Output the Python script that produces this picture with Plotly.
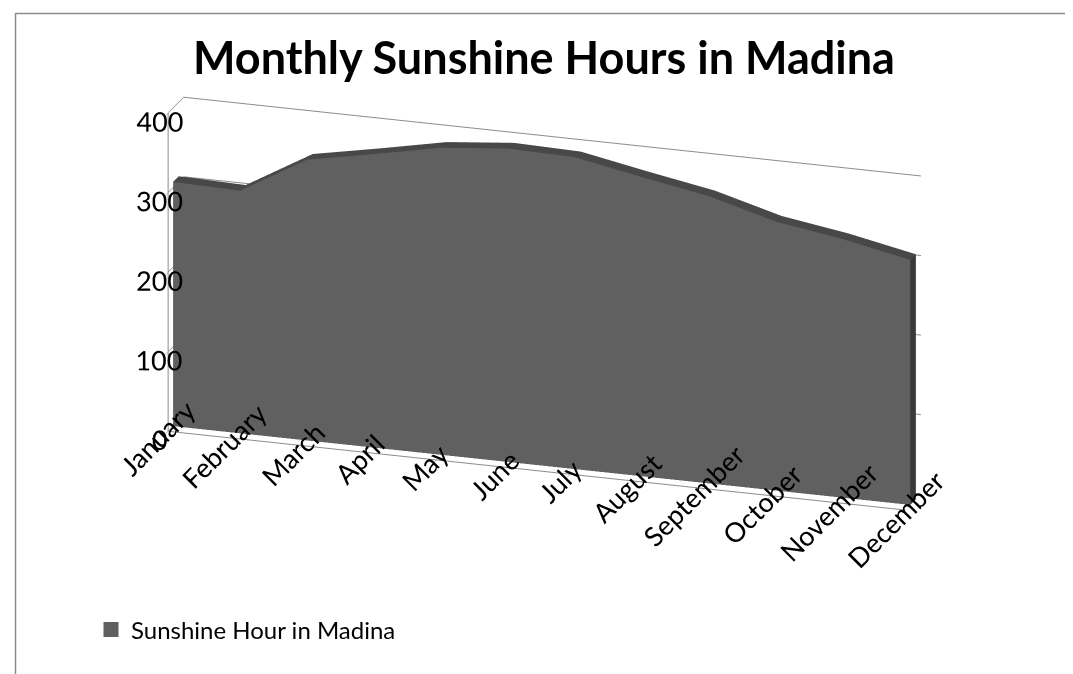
import math
import plotly.graph_objects as go

months = ["January", "February", "March", "April", "May", "June", "July",
          "August", "September", "October", "November", "December"]
hours = [307, 305, 353, 369, 386, 394, 392, 376, 361, 338, 325, 308]
series_name = "Sunshine Hour in Madina"
title_text = "Monthly Sunshine Hours in Madina"
z_ticks = [0, 100, 200, 300, 400]

FRONT = "#606060"
TOP = "#484848"
END = "#3a3a3a"
FONT = "Lato"

y0, y1 = 0.32, 0.68

xs, ys, zs = [], [], []
for i, v in enumerate(hours):
    xs += [i, i, i, i]
    ys += [y0, y0, y1, y1]
    zs += [0, v, v, 0]

I, J, K, colors = [], [], [], []
n = len(hours)
for i in range(n - 1):
    fb, ft, bt, bb = 4 * i, 4 * i + 1, 4 * i + 2, 4 * i + 3
    fb2, ft2, bt2, bb2 = fb + 4, ft + 4, bt + 4, bb + 4
    I += [fb, fb]; J += [fb2, ft2]; K += [ft2, ft]; colors += [FRONT, FRONT]
    I += [ft, ft]; J += [ft2, bt2]; K += [bt2, bt]; colors += [TOP, TOP]
last = 4 * (n - 1)
I += [last, last]; J += [last + 3, last + 2]; K += [last + 2, last + 1]; colors += [END, END]
I += [0, 0]; J += [3, 2]; K += [2, 1]; colors += [END, END]

mesh = go.Mesh3d(
    x=xs, y=ys, z=zs, i=I, j=J, k=K,
    facecolor=colors, flatshading=True,
    lighting=dict(ambient=1.0, diffuse=0.0, specular=0.0, fresnel=0.0, roughness=1.0),
    hoverinfo="skip", showscale=False, showlegend=False,
)

legend_dummy = go.Scatter(
    x=[None], y=[None], mode="markers", name=series_name,
    marker=dict(symbol="square", size=15, color=FRONT),
    showlegend=True,
)

fig = go.Figure([mesh, legend_dummy])

theta = math.radians(18)
phi = math.radians(16)
D = 2.2
eye = dict(x=D * math.sin(theta) * math.cos(phi),
           y=-D * math.cos(theta) * math.cos(phi),
           z=D * math.sin(phi))

axis_common = dict(showbackground=False, showspikes=False, title=dict(text=""),
                   color="#000000", linecolor="#8c8c8c", linewidth=2,
                   tickcolor="#8c8c8c", gridcolor="#8c8c8c", gridwidth=2,
                   zeroline=False)

fig.update_layout(
    width=1073, height=674,
    margin=dict(l=0, r=0, t=0, b=0),
    paper_bgcolor="white", plot_bgcolor="white",
    title=dict(text=f"<b>{title_text}</b>", x=0.4995, xanchor="center",
               y=1 - 50 / 674, yanchor="middle",
               font=dict(family=FONT, size=45, color="#000000")),
    font=dict(family=FONT, color="#000000"),
    xaxis=dict(visible=False), yaxis=dict(visible=False),
    showlegend=True,
    legend=dict(x=83 / 1073, y=1 - 622 / 674, xanchor="left", yanchor="middle",
                font=dict(family=FONT, size=24, color="#000000"),
                bgcolor="rgba(0,0,0,0)"),
    scene=dict(
        domain=dict(x=[0, 1], y=[0, 1]),
        aspectmode="manual",
        aspectratio=dict(x=2.3, y=0.15, z=1.0),
        camera=dict(eye=eye, center=dict(x=0, y=0, z=-0.13), up=dict(x=0, y=0, z=1),
                    projection=dict(type="orthographic")),
        xaxis=dict(axis_common, range=[0, n - 1], tickvals=list(range(n)),
                   ticktext=months,
                   showgrid=False, showline=True, ticks="outside", ticklen=10,
                   tickangle=-45, tickfont=dict(family=FONT, size=18)),
        yaxis=dict(axis_common, range=[0, 1], showgrid=False, showticklabels=False,
                   ticks="", showline=False),
        zaxis=dict(axis_common, range=[0, 400], tickvals=z_ticks,
                   showgrid=True,
                   showline=True, ticks="outside", ticklen=10, tickangle=0,
                   tickfont=dict(family=FONT, size=18)),
    ),
    shapes=[
        dict(type="line", xref="paper", yref="paper", x0=7.5 / 1073, x1=7.5 / 1073,
             y0=0, y1=1 - 5 / 674, line=dict(color="#8c8c8c", width=1.5)),
        dict(type="line", xref="paper", yref="paper", x0=7.5 / 1073, x1=1,
             y0=1 - 5.5 / 674, y1=1 - 5.5 / 674, line=dict(color="#8c8c8c", width=1.5)),
    ],
)

fig.write_html("out.html")
